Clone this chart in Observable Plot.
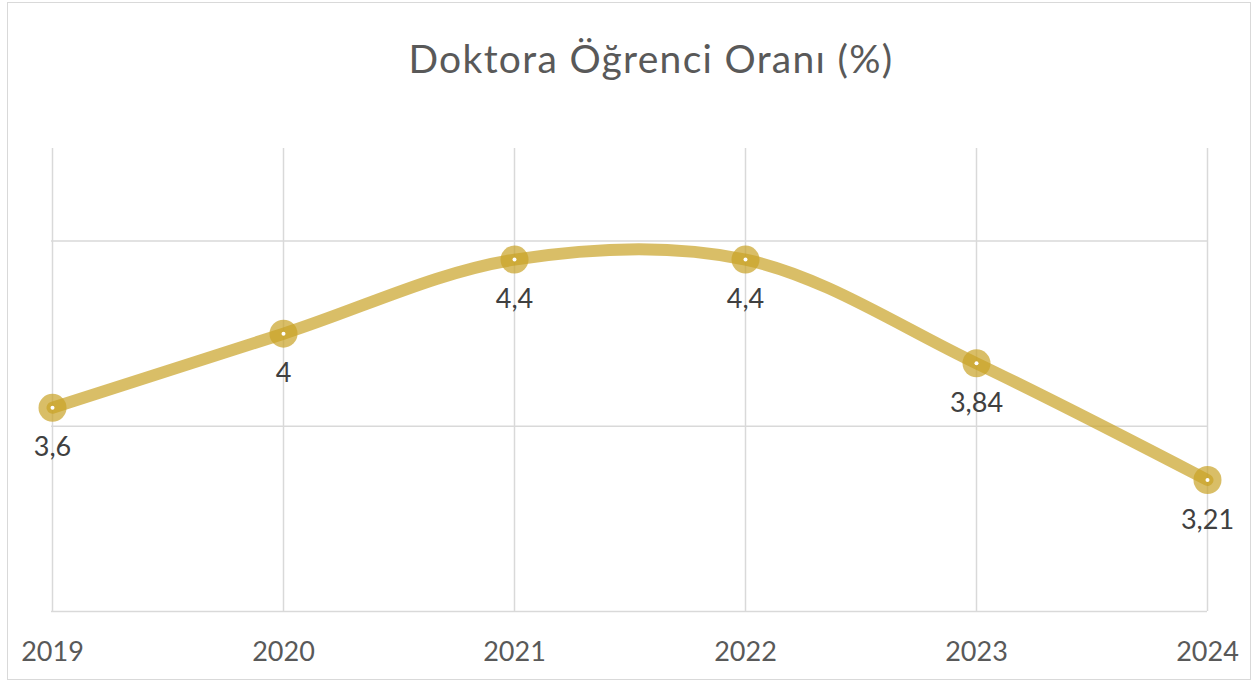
<!DOCTYPE html>
<html>
<head>
<meta charset="utf-8">
<script src="https://cdn.jsdelivr.net/npm/d3@7"></script>
<script src="https://cdn.jsdelivr.net/npm/@observablehq/plot@0.6"></script>
<style>
  html, body { margin: 0; padding: 0; background: #fff; }
  #wrap { position: relative; width: 1256px; height: 682px; overflow: hidden; font-family: Lato, "Noto Sans", sans-serif; }
  #frame { position: absolute; left: 7px; top: 2px; width: 1244px; height: 678px; border: 1px solid #D9D9D9; box-sizing: border-box; }
  #title { position: absolute; left: 0; width: 1302px; top: 39px; text-align: center; font-size: 39px; color: #595959; letter-spacing: 1.3px; line-height: 1; }
  #chart { position: absolute; left: 0; top: 100px; }
</style>
</head>
<body>
<div id="wrap">
  <div id="frame"></div>
  <div id="title">Doktora Öğrenci Oranı (%)</div>
  <div id="chart"></div>
</div>
<script>
const years = ["2019", "2020", "2021", "2022", "2023", "2024"];
const values = [3.6, 4, 4.4, 4.4, 3.84, 3.21];
const valueLabels = ["3,6", "4", "4,4", "4,4", "3,84", "3,21"];
const gridValues = [2.5, 3.5, 4.5];

const data = years.map((y, i) => ({year: y, value: values[i], label: valueLabels[i]}));
const gold = "#C9A227";

const chart = Plot.plot({
  width: 1256,
  height: 582,
  marginLeft: 51,
  marginRight: 49,
  marginTop: 48,
  marginBottom: 71,
  style: {fontFamily: "Lato, 'Noto Sans', sans-serif", background: "transparent", overflow: "visible"},
  x: {type: "point", domain: years, padding: 0, label: null},
  y: {domain: [2.5, 5], axis: null},
  marks: [
    Plot.ruleY(gridValues, {stroke: "#D9D9D9", strokeWidth: 1.5}),
    Plot.ruleX(years, {y1: 2.5, y2: 5, stroke: "#D9D9D9", strokeWidth: 1.5}),
    Plot.axisX({tickSize: 0, tickPadding: 30, fontSize: 27, color: "#595959", label: null}),
    Plot.line(data, {x: "year", y: "value", curve: "catmull-rom", stroke: gold, strokeOpacity: 0.7, strokeWidth: 12}),
    Plot.dot(data, {x: "year", y: "value", r: 14, fill: gold, fillOpacity: 0.7, stroke: "none"}),
    Plot.dot(data, {x: "year", y: "value", r: 2, fill: "white", stroke: "none"}),
    Plot.text(data, {x: "year", y: "value", text: "label", dy: 40, fontSize: 27, fill: "#404040"})
  ]
});
document.getElementById("chart").appendChild(chart);
</script>
</body>
</html>
